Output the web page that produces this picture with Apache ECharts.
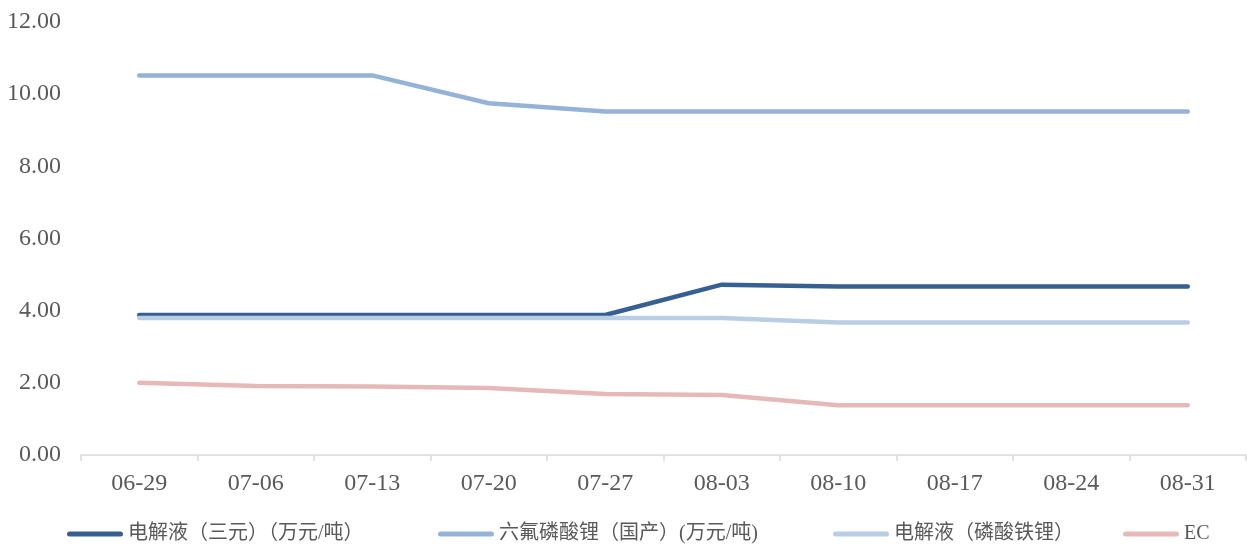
<!DOCTYPE html>
<html>
<head>
<meta charset="utf-8">
<script src="https://cdn.jsdelivr.net/npm/echarts@6/dist/echarts.min.js"></script>
<style>
  html, body { margin: 0; padding: 0; background: #ffffff; }
  #chart { width: 1247px; height: 545px; }
</style>
</head>
<body>
<div id="chart"></div>
<script>
// Weekly dates
const dates = ['06-29', '07-06', '07-13', '07-20', '07-27', '08-03', '08-10', '08-17', '08-24', '08-31'];

// Series names
const nameTernary = '电解液（三元）（万元/吨）';
const nameLiPF6 = '六氟磷酸锂（国产）(万元/吨)';
const nameLFP = '电解液（磷酸铁锂）';
const nameEC = 'EC';

// Prices
const ternaryElectrolyte = [3.88, 3.88, 3.88, 3.88, 3.88, 4.72, 4.67, 4.67, 4.67, 4.67];
const lipf6Domestic = [10.52, 10.52, 10.52, 9.75, 9.52, 9.52, 9.52, 9.52, 9.52, 9.52];
const lfpElectrolyte = [3.80, 3.80, 3.80, 3.80, 3.80, 3.80, 3.67, 3.67, 3.67, 3.67];
const ecPrice = [2.0, 1.91, 1.90, 1.86, 1.69, 1.66, 1.38, 1.38, 1.38, 1.38];

// Y-axis range
const yMin = 0, yMax = 12, yStep = 2;

const serif = "'Liberation Serif', 'Times New Roman', 'Noto Sans CJK SC', serif";
const textColor = '#595959';

const colors = ['#376092', '#95b3d7', '#b9cde5', '#e6b9b8'];

// Capsule-shaped legend marker (rounded line ends)
const capsule = 'path://M2.5,0 L53.5,0 A2.5,2.5 0 0 1 53.5,5 L2.5,5 A2.5,2.5 0 0 1 2.5,0 Z';

function lineSeries(name, data, color) {
  return {
    name: name,
    type: 'line',
    data: data,
    symbol: 'none',
    smooth: false,
    animation: false,
    lineStyle: { color: color, width: 4.5, cap: 'round', join: 'round' },
    itemStyle: { color: color }
  };
}

function legendAt(name, left) {
  return {
    data: [{ name: name, icon: capsule }],
    left: left,
    top: 521,
    itemWidth: 56,
    itemHeight: 5,
    padding: 0,
    selectedMode: false,
    textStyle: { color: textColor, fontSize: 20, fontFamily: serif, lineHeight: 26 }
  };
}

const chart = echarts.init(document.getElementById('chart'));
chart.setOption({
  backgroundColor: '#ffffff',
  animation: false,
  color: colors,
  grid: { left: 81, right: 1, top: 22, bottom: 90, containLabel: false },
  legend: [
    legendAt(nameTernary, 67),
    legendAt(nameLiPF6, 438),
    legendAt(nameLFP, 833),
    legendAt(nameEC, 1123)
  ],
  xAxis: {
    type: 'category',
    data: dates,
    boundaryGap: true,
    axisLine: { lineStyle: { color: '#d9d9d9', width: 1.5 } },
    axisTick: { show: true, length: 6, lineStyle: { color: '#d9d9d9', width: 1.5 } },
    axisLabel: { color: textColor, fontSize: 24, fontFamily: serif, margin: 17 },
    splitLine: { show: false }
  },
  yAxis: {
    type: 'value',
    min: yMin,
    max: yMax,
    interval: yStep,
    axisLine: { show: false },
    axisTick: { show: false },
    splitLine: { show: false },
    axisLabel: {
      color: textColor,
      fontSize: 24,
      fontFamily: serif,
      margin: 20,
      formatter: function (v) { return v.toFixed(2); }
    }
  },
  series: [
    lineSeries(nameTernary, ternaryElectrolyte, colors[0]),
    lineSeries(nameLiPF6, lipf6Domestic, colors[1]),
    lineSeries(nameLFP, lfpElectrolyte, colors[2]),
    lineSeries(nameEC, ecPrice, colors[3])
  ]
});
</script>
</body>
</html>
